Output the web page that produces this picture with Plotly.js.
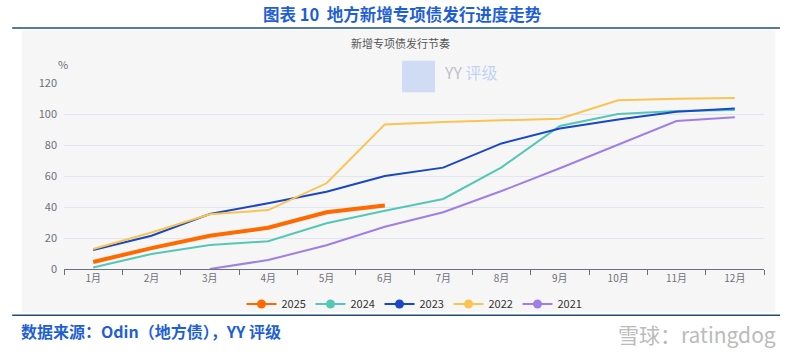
<!DOCTYPE html>
<html><head><meta charset="utf-8">
<script src="https://cdn.plot.ly/plotly-3.0.1.min.js"></script>
<style>html,body{margin:0;padding:0;background:#fff;}#chart{width:800px;height:362px;}</style>
</head><body><div id="chart"></div>
<script>
const months = ['1月','2月','3月','4月','5月','6月','7月','8月','9月','10月','11月','12月'];
const s2025 = [4.5, 13.5, 21.5, 26.6, 36.6, 40.9, null, null, null, null, null, null];
const s2024 = [1.0, 9.7, 15.5, 17.9, 29.5, 37.6, 45.2, 65.6, 92.3, 100.0, 102.0, 102.6];
const s2023 = [12.3, 21.5, 35.5, 42.4, 49.9, 60.0, 65.4, 81.0, 90.7, 96.5, 101.5, 103.6];
const s2022 = [12.9, 23.6, 35.3, 38.0, 55.3, 93.3, 94.8, 96.0, 97.0, 108.8, 109.9, 110.3];
const s2021 = [null, null, 0.0, 5.8, 15.3, 27.3, 36.6, 50.3, 65.0, 80.0, 95.5, 97.9];
const seriesNames = ['2025','2024','2023','2022','2021'];
const yTicks = [0,20,40,60,80,100,120];

const allSeries = [s2025, s2024, s2023, s2022, s2021];
const colors = ['#FF6A00','#55C7B6','#1A48C4','#FAC450','#A07FE5'];
const widths = [4, 2, 2, 2, 2];

const traces = [];
allSeries.forEach((s, i) => {
  traces.push({x: months, y: s, type: 'scatter', mode: 'lines', name: seriesNames[i],
    line: {color: colors[i], width: widths[i]}, showlegend: false, hoverinfo: 'skip', connectgaps: false});
});
allSeries.forEach((s, i) => {
  traces.push({x: [null], y: [null], type: 'scatter', mode: 'lines+markers', name: seriesNames[i],
    line: {color: colors[i], width: 2}, marker: {color: colors[i], size: 9}, showlegend: true});
});

const layout = {
  width: 800, height: 362,
  margin: {l: 64, r: 36, t: 83, b: 93},
  paper_bgcolor: '#ffffff', plot_bgcolor: 'rgba(0,0,0,0)',
  font: {family: '"Noto Sans CJK SC", "Noto Sans", sans-serif', color: '#6E7079', size: 11},
  showlegend: true,
  legend: {orientation: 'h', x: 0.5, xanchor: 'center', y: -0.188, yanchor: 'middle',
    font: {size: 11, color: '#333'}, bgcolor: 'rgba(0,0,0,0)', itemwidth: 30,
    entrywidth: 24, entrywidthmode: 'pixels'},
  xaxis: {type: 'category', range: [-0.5, 11.5], tickson: 'boundaries', ticks: 'outside', ticklen: 5, tickcolor: '#6E7079',
    showline: true, linecolor: '#6E7079', linewidth: 1, showgrid: false, zeroline: false,
    tickfont: {size: 10, color: '#6E7079'}, fixedrange: true},
  yaxis: {range: [0, 120], tickvals: yTicks, ticktext: yTicks.map(String), showgrid: true,
    gridcolor: '#E0E6F1', gridwidth: 1, zeroline: false, showline: false, ticks: '',
    ticklabelstandoff: 6, tickfont: {size: 11, color: '#6E7079'}},
  shapes: [
    {type: 'rect', xref: 'paper', yref: 'paper', x0: -0.06, x1: 1.016, y0: -0.232, y1: 1.285,
      fillcolor: '#F6F6F7', line: {width: 0}, layer: 'below'},
    {type: 'line', xref: 'paper', yref: 'paper', x0: -0.074, x1: 1.023, y0: 1.296, y1: 1.296,
      line: {color: '#1F4E79', width: 1.5}},
    {type: 'line', xref: 'paper', yref: 'paper', x0: -0.074, x1: 1.023, y0: -0.248, y1: -0.248,
      line: {color: '#1F4E79', width: 1.5}},
    {type: 'rect', xref: 'paper', yref: 'paper', x0: 0.483, x1: 0.53, y0: 0.95, y1: 1.12,
      fillcolor: 'rgba(120,160,240,0.3)', line: {width: 0}, layer: 'below'}
  ],
  annotations: [
    {text: '<b>图表 10  地方新增专项债发行进度走势</b>', xref: 'paper', yref: 'paper', x: 0.484, y: 1.37,
      xanchor: 'center', yanchor: 'middle', showarrow: false,
      font: {size: 16.5, color: '#1F5FD6', family: '"Noto Sans CJK SC", sans-serif'}},
    {text: '新增专项债发行节奏', xref: 'paper', yref: 'paper', x: 0.48, y: 1.215,
      xanchor: 'center', yanchor: 'middle', showarrow: false, font: {size: 11, color: '#555'}},
    {text: '%', xref: 'paper', yref: 'paper', x: -0.002, y: 1.1, xanchor: 'center', yanchor: 'middle',
      showarrow: false, font: {size: 11, color: '#6E7079'}},
    {text: 'YY <span style="color:rgba(90,140,235,0.6)">评级</span>', xref: 'paper', yref: 'paper', x: 0.54, y: 1.06, xanchor: 'left', yanchor: 'middle',
      showarrow: false, font: {size: 16, color: 'rgba(150,150,160,0.6)'}},
    {text: '<b>数据来源：Odin（地方债），YY 评级</b>', xref: 'paper', yref: 'paper', x: -0.064, y: -0.335,
      xanchor: 'left', yanchor: 'middle', showarrow: false,
      font: {size: 16, color: '#1F5FD6', family: '"Noto Sans CJK SC", sans-serif'}},
    {text: '雪球：ratingdog', xref: 'paper', yref: 'paper', x: 1.02, y: -0.35,
      xanchor: 'right', yanchor: 'middle', showarrow: false,
      font: {size: 21, color: '#bbbbbb'}}
  ]
};
Plotly.newPlot('chart', traces, layout, {displayModeBar: false, staticPlot: true});
</script></body></html>
